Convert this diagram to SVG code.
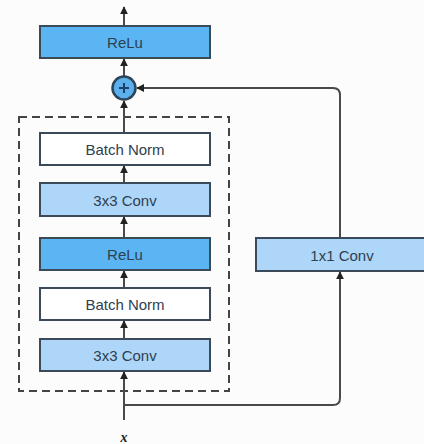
<svg xmlns="http://www.w3.org/2000/svg" width="424" height="444" viewBox="0 0 424 444">
<defs>
<style>
.box{stroke:#3b4a58;stroke-width:2}
.relu{fill:#5cb5f3}
.conv{fill:#aed6f9}
.bn{fill:#ffffff}
.lbl{font-family:"Liberation Sans",Arial,sans-serif;font-size:15px;fill:#2e4050;text-anchor:middle;dominant-baseline:central}
.edge{fill:none;stroke:#4a4a4a;stroke-width:2}
</style>
<marker id="ah" viewBox="0 0 10 10" refX="9" refY="5" markerWidth="4" markerHeight="4" orient="auto" markerUnits="strokeWidth">
<path d="M0,0 L10,5 L0,10 z" fill="#222"/>
</marker>
</defs>
<rect x="0" y="0" width="424" height="444" fill="#fcfcfc"/>
<g id="residual-block">
<rect x="19" y="117" width="210" height="274" fill="none" stroke="#444" stroke-width="2" stroke-dasharray="8,5"/>
</g>
<g id="connectors">
<path class="edge" d="M124,420 V372" marker-end="url(#ah)"/>
<path class="edge" d="M124,405 H333 Q340,405 340,398 V272" marker-end="url(#ah)"/>
<path class="edge" d="M124,339 V321" marker-end="url(#ah)"/>
<path class="edge" d="M124,288 V271" marker-end="url(#ah)"/>
<path class="edge" d="M124,238 V217" marker-end="url(#ah)"/>
<path class="edge" d="M124,183 V166" marker-end="url(#ah)"/>
<path class="edge" d="M124,133 V101" marker-end="url(#ah)"/>
<path class="edge" d="M340,238 V95 Q340,88 333,88 H137" marker-end="url(#ah)"/>
<path class="edge" d="M124,76 V59" marker-end="url(#ah)"/>
<path class="edge" d="M124,26 V7" marker-end="url(#ah)"/>
</g>
<g id="relu-out">
<rect class="box relu" x="40" y="26" width="170" height="32"/>
<text class="lbl" x="125" y="42">ReLu</text>
</g>
<g id="add">
<circle cx="124" cy="88" r="11.5" fill="#5cb0ee" stroke="#2e4458" stroke-width="2.5"/>
<path d="M119,88 H129 M124,83 V93" stroke="#1f3f66" stroke-width="2"/>
</g>
<g id="bn2">
<rect class="box bn" x="40" y="133" width="170" height="32"/>
<text class="lbl" x="125" y="149">Batch Norm</text>
</g>
<g id="conv2">
<rect class="box conv" x="40" y="183" width="170" height="33"/>
<text class="lbl" x="125" y="200">3x3 Conv</text>
</g>
<g id="relu1">
<rect class="box relu" x="40" y="238" width="170" height="32"/>
<text class="lbl" x="125" y="254">ReLu</text>
</g>
<g id="bn1">
<rect class="box bn" x="40" y="288" width="170" height="32"/>
<text class="lbl" x="125" y="304">Batch Norm</text>
</g>
<g id="conv1">
<rect class="box conv" x="40" y="339" width="170" height="32"/>
<text class="lbl" x="125" y="355">3x3 Conv</text>
</g>
<g id="conv1x1">
<rect class="box conv" x="256" y="238" width="172" height="33"/>
<text class="lbl" x="342" y="255">1x1 Conv</text>
</g>
<g id="input">
<text x="124" y="437" font-family="'Liberation Serif',serif" font-size="14" font-style="italic" font-weight="bold" fill="#222" text-anchor="middle" dominant-baseline="central">x</text>
</g>
</svg>
